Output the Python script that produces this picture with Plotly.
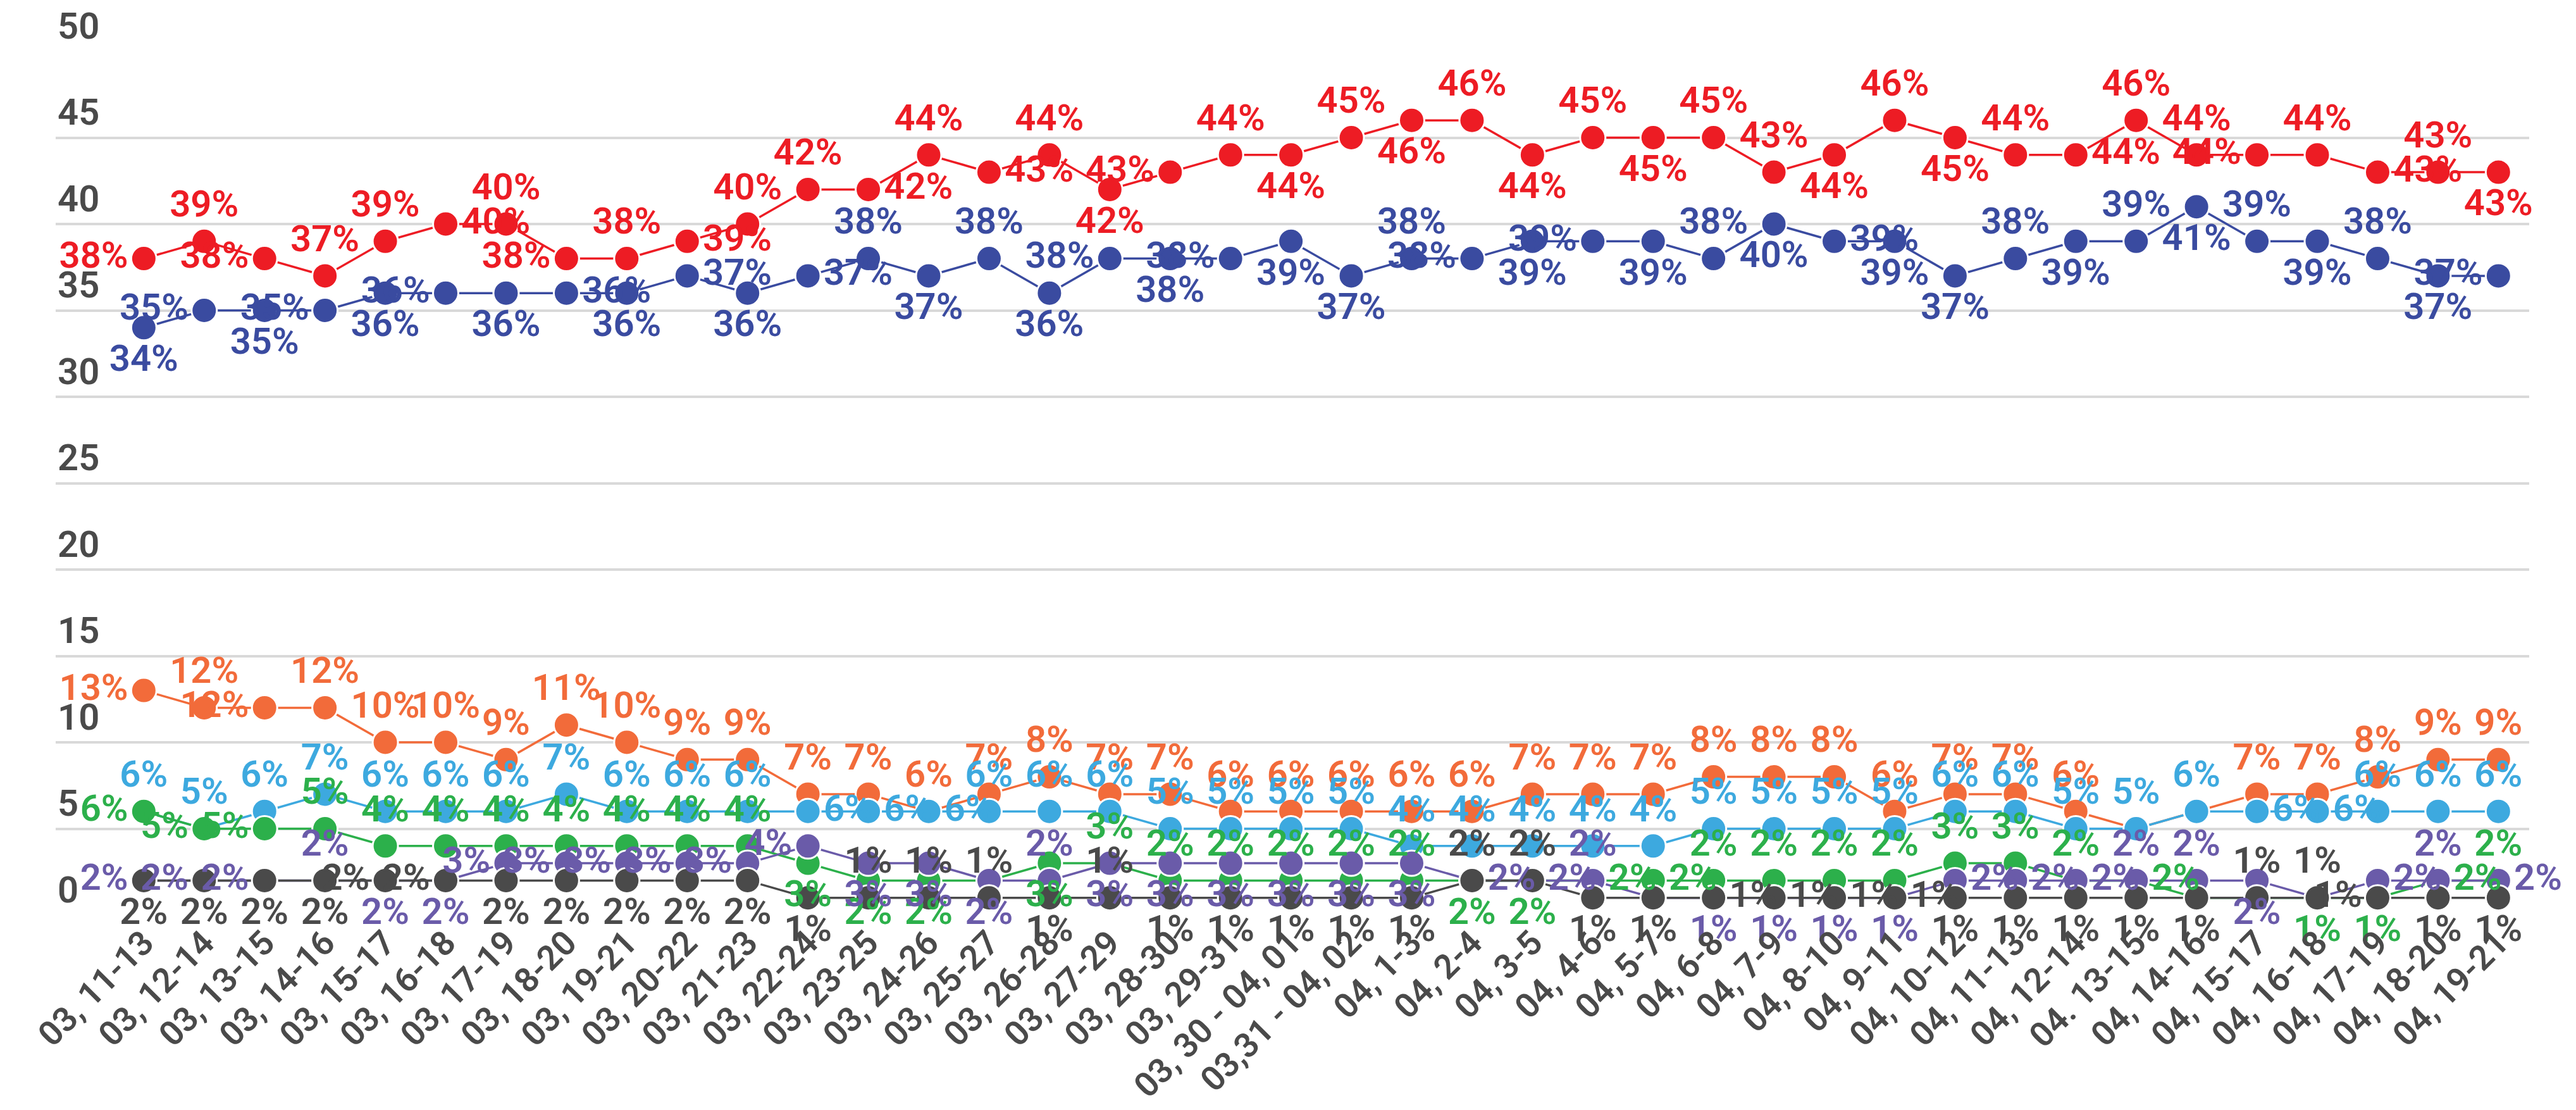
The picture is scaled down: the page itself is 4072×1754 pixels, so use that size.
import plotly.graph_objects as go

categories = ["03, 11-13", "03, 12-14", "03, 13-15", "03, 14-16", "03, 15-17", "03, 16-18",
              "03, 17-19", "03, 18-20", "03, 19-21", "03, 20-22", "03, 21-23", "03, 22-24",
              "03, 23-25", "03, 24-26", "03, 25-27", "03, 26-28", "03, 27-29", "03, 28-30",
              "03, 29-31", "03, 30 - 04, 01", "03,31 - 04, 02", "04, 1-3", "04, 2-4", "04, 3-5",
              "04, 4-6", "04, 5-7", "04, 6-8", "04, 7-9", "04, 8-10", "04, 9-11", "04, 10-12",
              "04, 11-13", "04, 12-14", "04. 13-15", "04, 14-16", "04, 15-17", "04, 16-18",
              "04, 17-19", "04, 18-20", "04, 19-21"]

red = [38, 39, 38, 37, 39, 40, 40, 38, 38, 39, 40, 42, 42, 44, 43, 44, 42, 43, 44, 44,
       45, 46, 46, 44, 45, 45, 45, 43, 44, 46, 45, 44, 44, 46, 44, 44, 44, 43, 43, 43]
navy = [34, 35, 35, 35, 36, 36, 36, 36, 36, 37, 36, 37, 38, 37, 38, 36, 38, 38, 38, 39,
        37, 38, 38, 39, 39, 39, 38, 40, 39, 39, 37, 38, 39, 39, 41, 39, 39, 38, 37, 37]
orange = [13, 12, 12, 12, 10, 10, 9, 11, 10, 9, 9, 7, 7, 6, 7, 8, 7, 7, 6, 6,
          6, 6, 6, 7, 7, 7, 8, 8, 8, 6, 7, 7, 6, 5, 6, 7, 7, 8, 9, 9]
lightblue = [6, 5, 6, 7, 6, 6, 6, 7, 6, 6, 6, 6, 6, 6, 6, 6, 6, 5, 5, 5,
             5, 4, 4, 4, 4, 4, 5, 5, 5, 5, 6, 6, 5, 5, 6, 6, 6, 6, 6, 6]
green = [6, 5, 5, 5, 4, 4, 4, 4, 4, 4, 4, 3, 2, 2, 2, 3, 3, 2, 2, 2,
         2, 2, 2, 2, 2, 2, 2, 2, 2, 2, 3, 3, 2, 2, 1, 1, 1, 1, 2, 2]
purple = [2, 2, 2, 2, 2, 2, 3, 3, 3, 3, 3, 4, 3, 3, 2, 2, 3, 3, 3, 3,
          3, 3, 2, 2, 2, 1, 1, 1, 1, 1, 2, 2, 2, 2, 2, 2, 1, 2, 2, 2]
black = [2, 2, 2, 2, 2, 2, 2, 2, 2, 2, 2, 1, 1, 1, 1, 1, 1, 1, 1, 1,
         1, 1, 2, 2, 1, 1, 1, 1, 1, 1, 1, 1, 1, 1, 1, 1, 1, 1, 1, 1]

# label placement per point: T top, B bottom, L left, R right, - hidden
red_pos = "L T L T T R T L T R T T R T R T B L T B T B T B T B T T B T B T R T T L T R T B"
navy_pos = "B L B L B L B R B R B R T B T B L B L B B T L B L B T B R B B T B T B T B T B L"
orange_pos = "L T L T T T T T T T T T T T T T T T T T T T T T T T T T T T T T T - - T T T T T"
lightblue_pos = "T T T T T T T T T T T R R R T T T T T T T T T T T T T T T T T T T T T R R T T T"
green_pos = "L L L T T T T T T T T B B B - B T T T T T T B B R R T T T T T T T R - - B B R T"
purple_pos = "L L L T B B L L L L L L B B B T B B B B B B R R T - B B B B R R R T T B - R T R"
black_pos = "B B B B L L B B B B B B T T T B T B B B B B T T B B R R R R B B B B B T T L B B"

series = [
    (red, red_pos, "#ED1C24"),
    (navy, navy_pos, "#3A4BA0"),
    (orange, orange_pos, "#F26B3A"),
    (lightblue, lightblue_pos, "#3DA9DF"),
    (green, green_pos, "#2CB04B"),
    (purple, purple_pos, "#6A5BA9"),
    (black, black_pos, "#4A4A4A"),
]

POS = {"T": "top center", "B": "bottom center", "L": "middle left", "R": "middle right", "-": "middle center"}
x = list(range(len(categories)))

fig = go.Figure()
for vals, pos, col in series:
    fig.add_trace(go.Scatter(
        x=x, y=vals, mode="lines+markers",
        line=dict(color=col, width=3.5),
        marker=dict(size=40, color=col, line=dict(color="white", width=3)),
        showlegend=False, hoverinfo="skip", cliponaxis=False,
    ))

for vals, pos, col in series:
    codes = pos.split()
    texts = ["" if c == "-" else f"{v}%" for v, c in zip(vals, codes)]
    fig.add_trace(go.Scatter(
        x=x, y=vals, mode="markers+text",
        marker=dict(size=38, color="rgba(0,0,0,0)"),
        text=texts, textposition=[POS[c] for c in codes],
        textfont=dict(family="Roboto", size=58, color=col, weight=600),
        showlegend=False, hoverinfo="skip", cliponaxis=False,
    ))

fig.update_layout(
    width=4072, height=1754,
    margin=dict(l=80, r=82, t=73, b=316, autoexpand=False),
    paper_bgcolor="white", plot_bgcolor="white",
    font=dict(family="Roboto", color="#4A4A4A"),
    xaxis=dict(
        range=[-1.46, 39.51], tickmode="array", tickvals=x, ticktext=categories,
        tickangle=-45, tickfont=dict(size=54, color="#4A4A4A", family="Roboto", weight=600),
        showgrid=False, zeroline=False, showline=False, ticks="",
    ),
    yaxis=dict(
        range=[0, 50], dtick=5, tick0=0,
        showgrid=True, gridcolor="#D9D9D9", gridwidth=4,
        zeroline=False, showline=False, ticks="",
        ticklabelposition="inside top", ticklabeloverflow="allow",
        tickfont=dict(size=58, color="#4A4A4A", family="Roboto", weight=600),
    ),
)

fig.write_html("out.html")
